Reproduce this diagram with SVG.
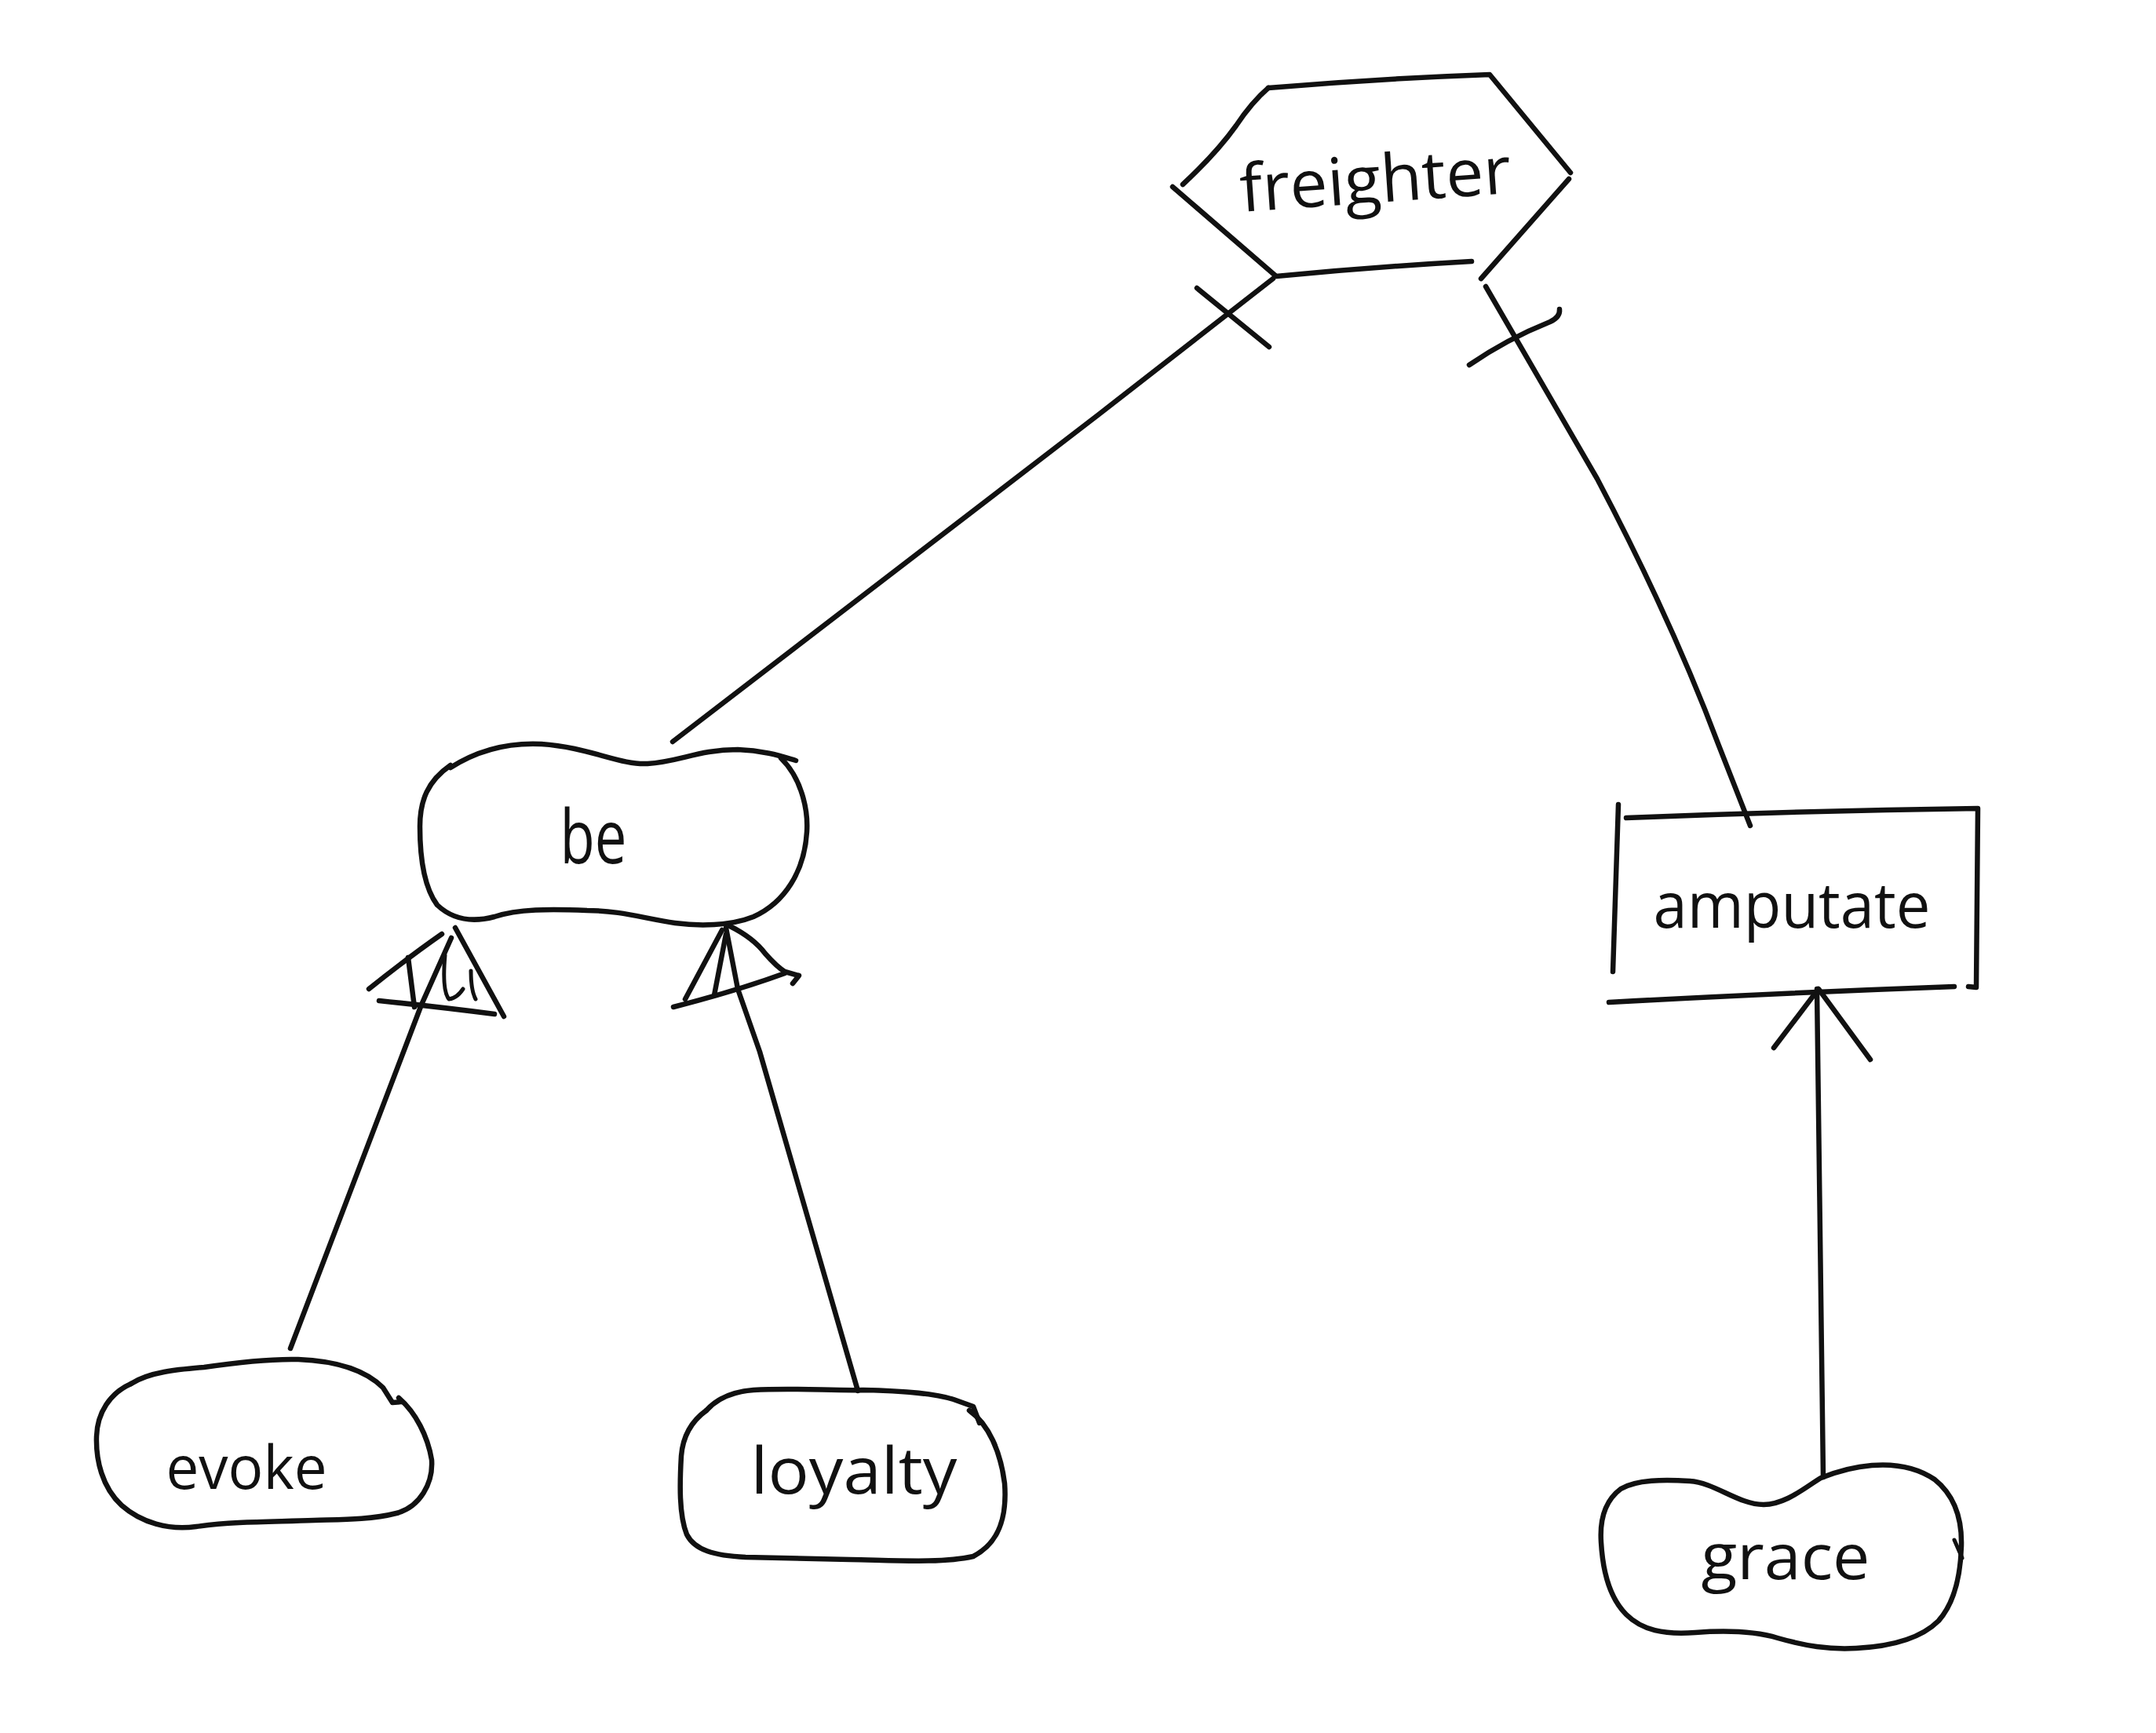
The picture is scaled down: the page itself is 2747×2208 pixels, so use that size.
<svg xmlns="http://www.w3.org/2000/svg" width="2747" height="2208" viewBox="0 0 2747 2208">
  <style>
    .ink { fill: none; stroke: #111; stroke-width: 6.5; stroke-linecap: round; stroke-linejoin: round; }
    .thin { fill: none; stroke: #111; stroke-width: 5; stroke-linecap: round; stroke-linejoin: round; }
    .label { font-family: "Open Sans", "Liberation Sans", sans-serif; font-weight: 400; fill: #111; text-anchor: middle; }
  </style>
  <rect x="0" y="0" width="2747" height="2208" fill="#fff"/>

  <!-- connectors -->
  <g id="connectors">
    <!-- freighter to be, with bar mark -->
    <path class="ink" d="M1622,355 L1400,528 L857,945"/>
    <path class="ink" d="M1525,367 L1617,442"/>
    <!-- freighter to amputate, with bar mark -->
    <path class="ink" d="M1893,365 L2035,610 Q2130,790 2190,950 L2230,1052"/>
    <path class="ink" d="M1872,465 Q1920,432 1975,410 Q1988,404 1987,394"/>
    <!-- evoke to be: hollow triangle head -->
    <path class="ink" d="M370,1718 L537,1280 L575,1195"/>
    <path class="ink" d="M580,1182 L642,1295"/>
    <path class="ink" d="M483,1275 Q560,1283 630,1292"/>
    <path class="ink" d="M563,1190 Q520,1220 470,1260"/>
    <path class="ink" d="M520,1220 L528,1283"/>
    <path class="thin" d="M567,1217 Q563,1262 572,1273 Q582,1272 590,1260"/>
    <path class="thin" d="M600,1237 Q600,1262 606,1273"/>
    <!-- loyalty to be: hollow triangle head -->
    <path class="ink" d="M1093,1772 Q1000,1450 968,1340 L940,1260 L925,1182"/>
    <path class="ink" d="M920,1185 L873,1273"/>
    <path class="ink" d="M858,1283 Q940,1262 1000,1240"/>
    <path class="ink" d="M930,1180 Q960,1195 975,1215 Q990,1232 1000,1238 L1018,1243 L1010,1253"/>
    <path class="ink" d="M925,1190 L910,1268"/>
    <!-- grace to amputate: open arrow -->
    <path class="ink" d="M2323,1882 L2315,1260"/>
    <path class="ink" d="M2260,1335 L2317,1260 L2383,1350"/>
  </g>

  <!-- freighter -->
  <g id="node-freighter">
    <path class="ink" d="M1616,112 Q1760,100 1898,95 L2001,220"/>
    <path class="ink" d="M1999,228 L1887,355"/>
    <path class="ink" d="M1507,235 Q1550,195 1575,160 Q1595,130 1616,112"/>
    <path class="ink" d="M1494,238 L1626,352 Q1750,340 1875,333"/>
    <text class="label" x="1753" y="258" font-size="84" textLength="346" lengthAdjust="spacingAndGlyphs" transform="rotate(-4 1753 240)">freighter</text>
  </g>

  <!-- be -->
  <g id="node-be">
    <path class="ink" d="M574,978 C610,955 650,946 690,948 C750,952 790,975 825,973 C865,971 890,955 940,955 C975,956 1000,965 1014,969"/>
    <path class="ink" d="M995,966 C1020,990 1030,1030 1028,1060 C1025,1110 1000,1150 960,1168 C930,1180 890,1180 860,1176 C820,1170 790,1160 748,1160 C700,1158 660,1158 630,1168 C600,1176 575,1170 557,1153 C540,1130 535,1090 535,1053 C535,1020 545,995 574,975"/>
    <text class="label" x="756" y="1100" font-size="95" textLength="85" lengthAdjust="spacingAndGlyphs">be</text>
  </g>

  <!-- amputate -->
  <g id="node-amputate">
    <path class="ink" d="M2062,1025 L2055,1238"/>
    <path class="ink" d="M2072,1042 Q2300,1033 2520,1030 L2518,1258 L2508,1257"/>
    <path class="ink" d="M2050,1277 Q2270,1265 2490,1257"/>
    <text class="label" x="2283" y="1182" font-size="80" textLength="353" lengthAdjust="spacingAndGlyphs">amputate</text>
  </g>

  <!-- evoke -->
  <g id="node-evoke">
    <path class="ink" d="M167,1763 C190,1748 225,1745 260,1742 C300,1736 340,1731 380,1732 C430,1734 465,1745 488,1768 L500,1787 L512,1786"/>
    <path class="ink" d="M508,1781 C530,1800 545,1830 550,1860 C552,1890 535,1920 505,1928 C470,1937 430,1936 400,1937 C350,1939 300,1938 250,1945 C215,1950 180,1940 155,1918 C130,1895 122,1860 123,1830 C124,1800 140,1775 167,1763"/>
    <text class="label" x="314" y="1897" font-size="76" textLength="205" lengthAdjust="spacingAndGlyphs">evoke</text>
  </g>

  <!-- loyalty -->
  <g id="node-loyalty">
    <path class="ink" d="M900,1797 C915,1780 935,1773 960,1771 C1010,1768 1060,1772 1100,1771 C1150,1772 1190,1775 1215,1783 L1240,1792 L1248,1813"/>
    <path class="ink" d="M1235,1797 C1260,1815 1275,1850 1280,1890 C1283,1930 1275,1965 1240,1983 C1200,1992 1140,1988 1083,1987 C1030,1986 980,1985 950,1984 C910,1982 885,1975 875,1955 C865,1930 866,1890 868,1855 C870,1830 882,1810 900,1797"/>
    <text class="label" x="1088" y="1903" font-size="82" textLength="263" lengthAdjust="spacingAndGlyphs">loyalty</text>
  </g>

  <!-- grace -->
  <g id="node-grace">
    <path class="ink" d="M2320,1883 C2300,1895 2275,1917 2247,1917 C2215,1917 2185,1889 2153,1887 C2120,1885 2085,1885 2065,1897 C2045,1912 2038,1935 2040,1965 C2042,2000 2050,2035 2072,2057 C2092,2077 2120,2083 2160,2080 C2200,2077 2235,2078 2265,2087 C2300,2097 2330,2102 2365,2100 C2405,2098 2445,2090 2470,2065 C2492,2040 2498,2005 2499,1970 C2500,1935 2490,1905 2465,1885 C2440,1868 2410,1865 2385,1867 C2360,1869 2340,1875 2320,1883 Z"/>
    <path class="thin" d="M2490,1962 L2500,1985"/>
    <text class="label" x="2275" y="2012" font-size="80" textLength="215" lengthAdjust="spacingAndGlyphs">grace</text>
  </g>
</svg>
